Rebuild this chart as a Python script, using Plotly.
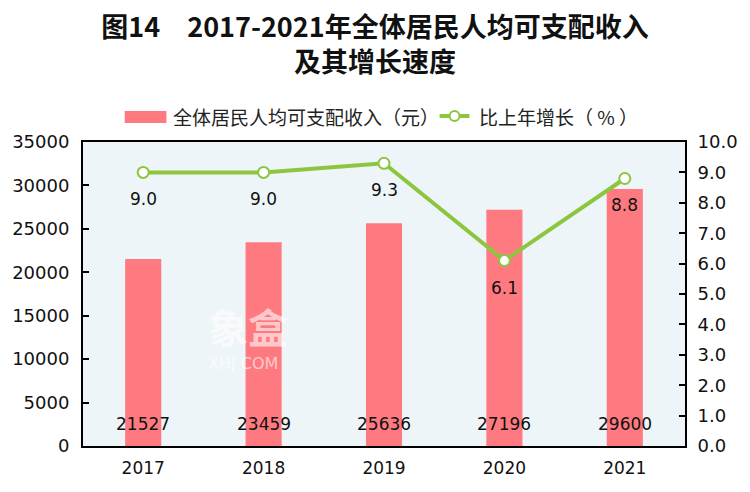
import plotly.graph_objects as go

years = ["2017", "2018", "2019", "2020", "2021"]
income = [21527, 23459, 25636, 27196, 29600]
growth = [9.0, 9.0, 9.3, 6.1, 8.8]

title_text = "图14　2017-2021年全体居民人均可支配收入<br>及其增长速度"
bar_name = "全体居民人均可支配收入（元）"
line_name = "比上年增长（ % ）"

CJK = "Noto Sans CJK SC"
NUM = "DejaVu Sans"
BAR_C = "#FF7A80"
LINE_C = "#8CC63F"

fig = go.Figure()
fig.add_trace(go.Bar(
    x=years, y=income, name=bar_name, width=0.3,
    marker=dict(color=BAR_C, line=dict(width=0)),
    yaxis="y", showlegend=False,
))
fig.add_trace(go.Scatter(
    x=years, y=growth, name=line_name, yaxis="y2",
    mode="lines+markers",
    line=dict(color=LINE_C, width=4),
    marker=dict(size=11, color="white", line=dict(color=LINE_C, width=2)),
    cliponaxis=False, showlegend=False,
))

ann = []
for i, v in enumerate(income):
    ann.append(dict(x=i, y=2500, xref="x", yref="y", text=str(v), showarrow=False,
                    font=dict(family=NUM, size=17, color="#111111")))
for i, g in enumerate(growth):
    ann.append(dict(x=i, y=g, xref="x", yref="y2", text=f"{g:.1f}", showarrow=False,
                    yshift=-27, font=dict(family=NUM, size=17, color="#111111")))
# watermark
ann.append(dict(x=0.205, y=0.395, xref="paper", yref="paper", text="<b>象盒</b>",
                showarrow=False, font=dict(family=CJK, size=40, color="rgba(255,255,255,0.6)")))
ann.append(dict(x=0.205, y=0.235, xref="paper", yref="paper", text="XHJ.COM",
                showarrow=False, font=dict(family=NUM, size=16, color="rgba(255,255,255,0.6)")))
# manual legend texts
ann.append(dict(x=0.1469, y=1.0855, xref="paper", yref="paper", text=bar_name,
                xanchor="left", yanchor="middle", showarrow=False,
                font=dict(family=CJK, size=19, color="#222222")))
ann.append(dict(x=0.6551, y=1.0855, xref="paper", yref="paper", text=line_name,
                xanchor="left", yanchor="middle", showarrow=False,
                font=dict(family=CJK, size=19, color="#222222")))

shapes = [
    dict(type="rect", xref="paper", yref="paper", x0=0.0693, x1=0.1386, y0=1.0625, y1=1.102,
         fillcolor=BAR_C, line=dict(width=0)),
    dict(type="line", xref="paper", yref="paper", x0=0.5924, x1=0.6419, y0=1.0855, y1=1.0855,
         line=dict(color=LINE_C, width=4)),
    dict(type="circle", xref="paper", yref="paper", x0=0.6172 - 5/606, x1=0.6172 + 5/606,
         y0=1.0855 - 5/304, y1=1.0855 + 5/304,
         fillcolor="white", line=dict(color=LINE_C, width=2)),
]

fig.update_layout(
    width=750, height=492,
    margin=dict(l=81, r=63, t=142, b=46),
    paper_bgcolor="white",
    plot_bgcolor="#EEF5F8",
    title=dict(text=title_text, x=0.5, xanchor="center", y=0.9258, yanchor="middle",
               font=dict(family=CJK, size=27, color="#111111", weight="bold")),
    showlegend=False,
    xaxis=dict(type="category", range=[-0.5, 4.5], showline=True, linecolor="black",
               linewidth=2, mirror=True, ticklabelstandoff=6,
               ticks="", tickfont=dict(family=NUM, size=17, color="#111111"),
               showgrid=False),
    yaxis=dict(range=[0, 35000], dtick=5000, tickformat="d", showline=True, linecolor="black",
               linewidth=2, ticks="inside", ticklen=6, tickwidth=2, tickcolor="black",
               showgrid=False, zeroline=False, ticklabelstandoff=8,
               tickfont=dict(family=NUM, size=18, color="#111111")),
    yaxis2=dict(range=[0, 10], dtick=1, tickformat=".1f", overlaying="y", side="right",
                showline=True, linecolor="black", linewidth=2,
                ticks="inside", ticklen=6, tickwidth=2, tickcolor="black", showgrid=False,
                zeroline=False, ticklabelstandoff=7,
                tickfont=dict(family=NUM, size=18, color="#111111")),
    annotations=ann,
    shapes=shapes,
)

fig.write_html("out.html", config={"displayModeBar": False},
               post_script="document.body.style.margin='0';")
